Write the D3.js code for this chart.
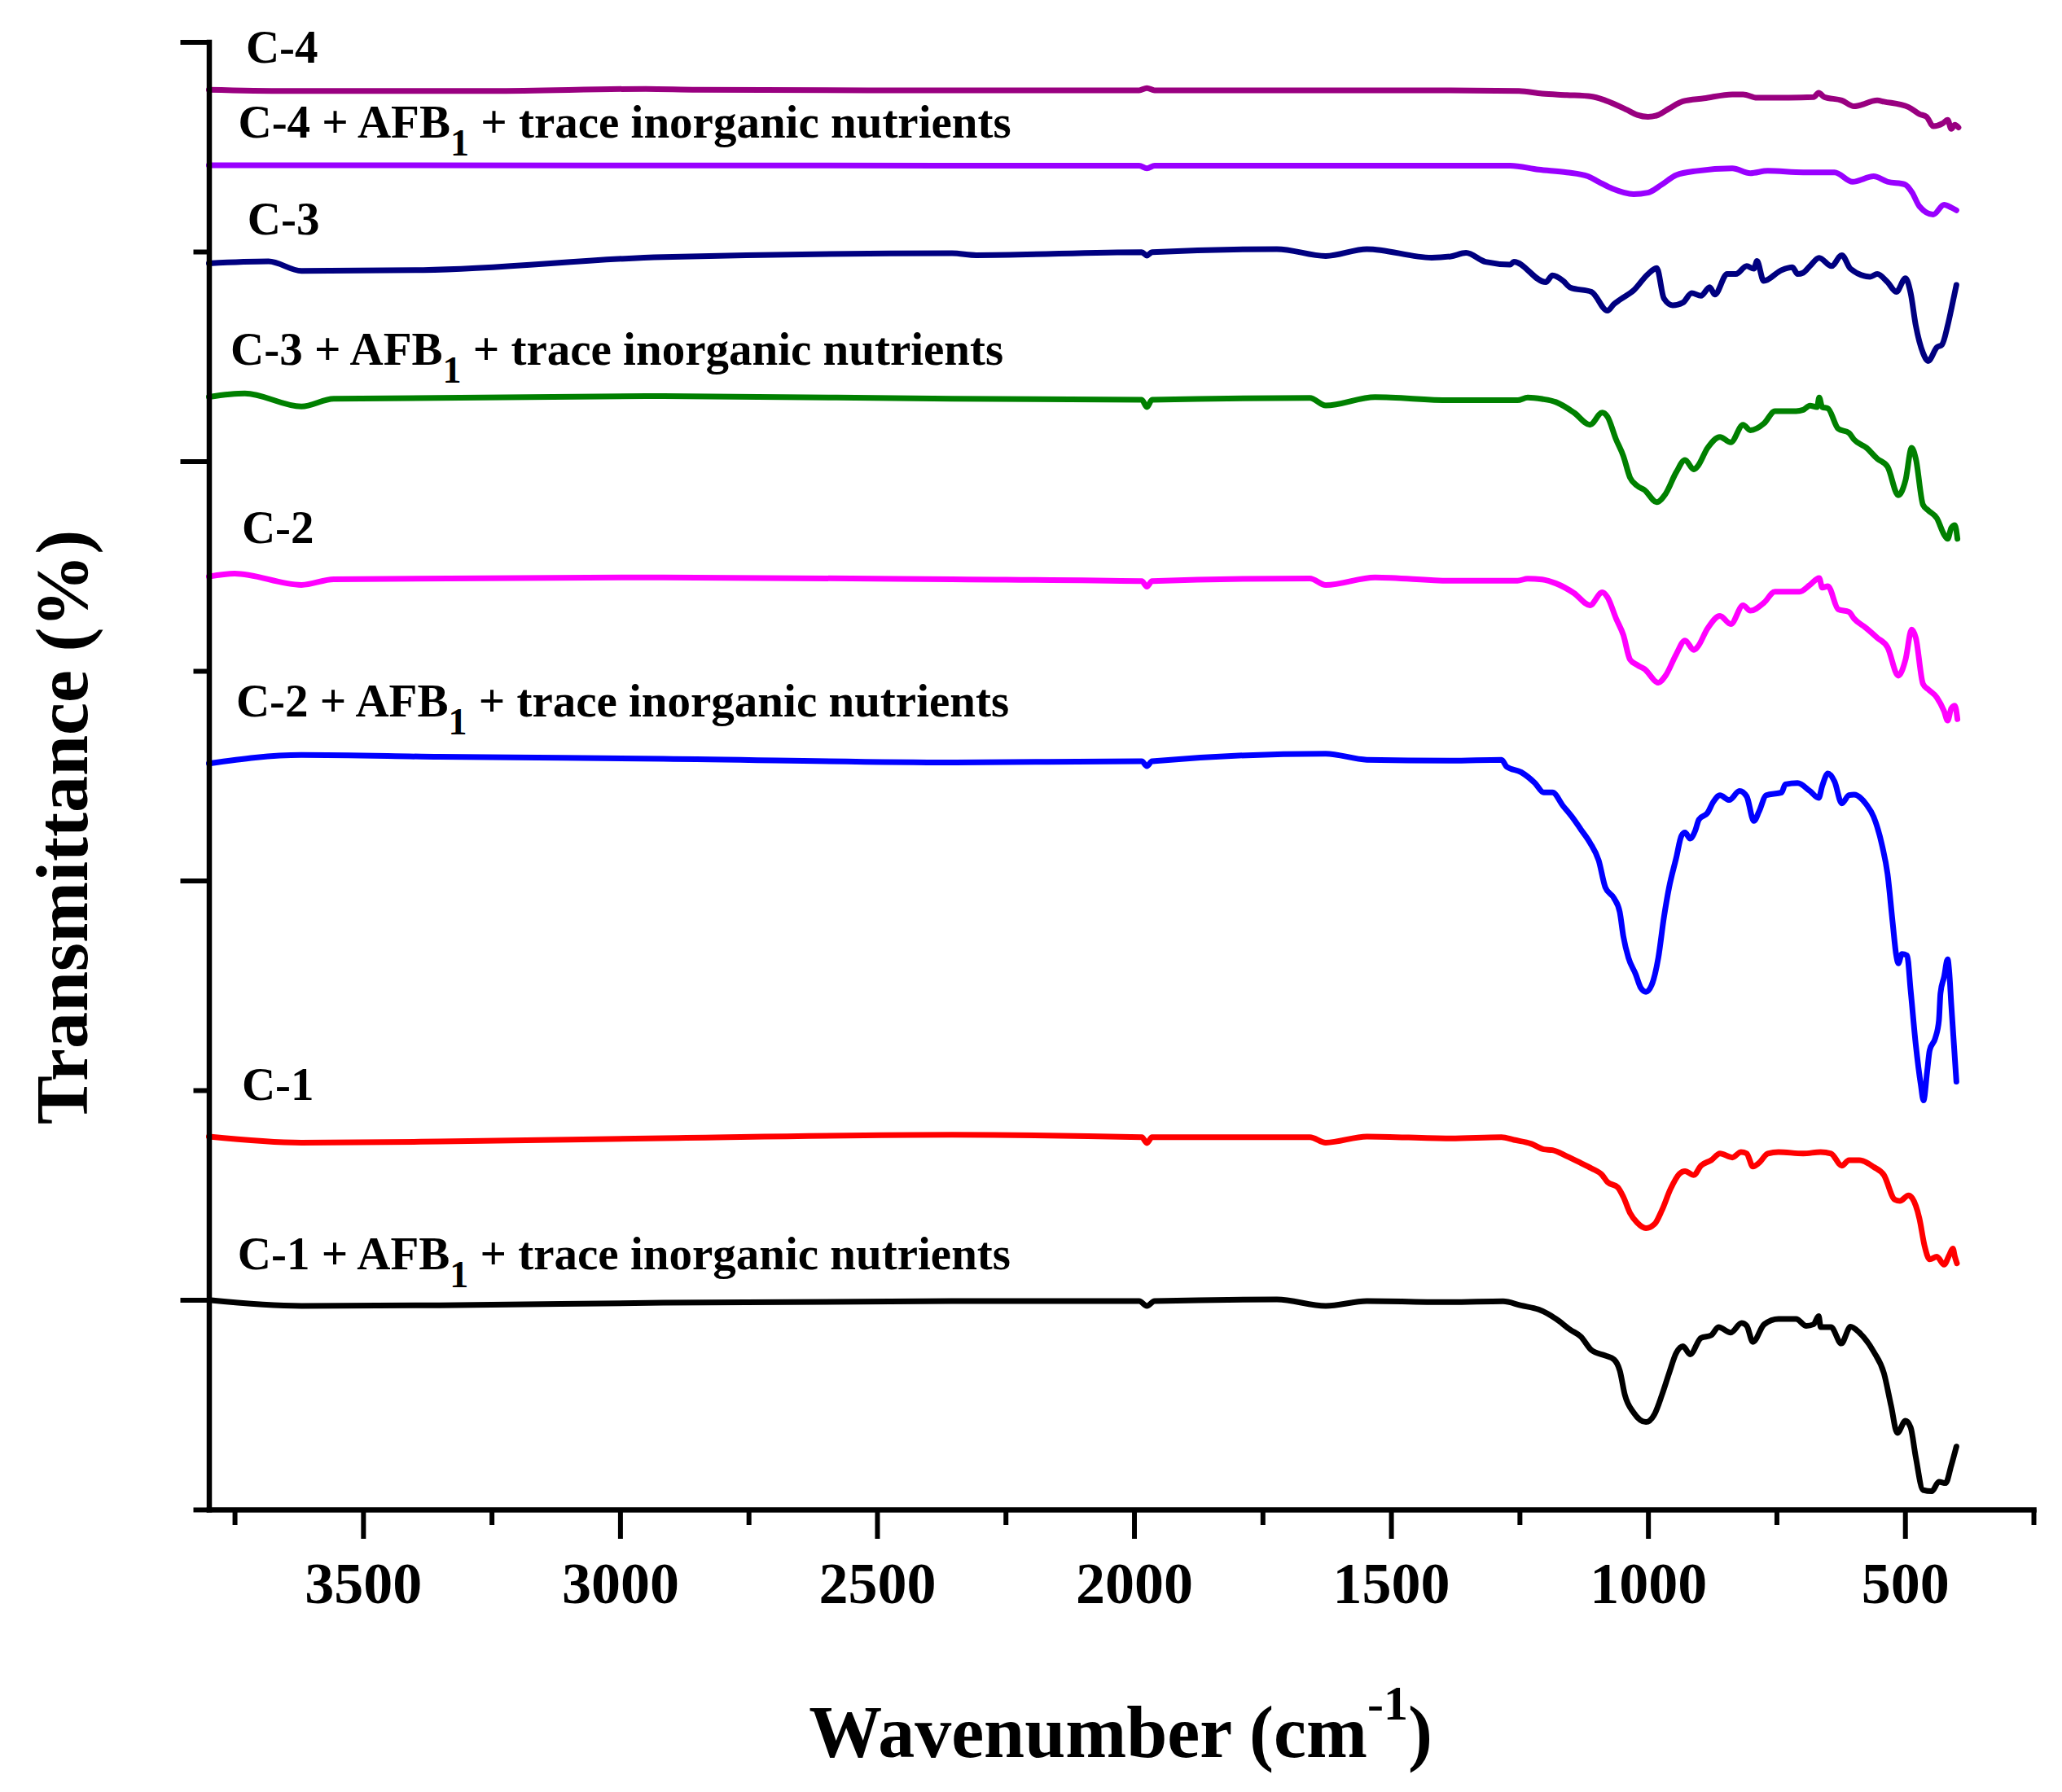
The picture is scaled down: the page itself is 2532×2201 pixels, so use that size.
<!DOCTYPE html>
<html>
<head>
<meta charset="utf-8">
<script src="https://cdn.jsdelivr.net/npm/d3@7"></script>
<style>
  body { margin: 0; background: #fff; }
  svg { display: block; }
</style>
</head>
<body>
<svg width="2532" height="2201"></svg>
<script>
// FTIR spectra, wavenumber (cm-1) vs offset transmittance (a.u.)
var c4 = [[3800,67.72],[3650,67.66],[3250,67.66],[2950,67.76],[2850,67.72],[2380,67.69],[1990,67.69],[1975,67.80],[1960,67.69],[1384,67.69],[1251,67.66],[1206,67.53],[1158,67.47],[1110,67.40],[1083,67.21],[1041,66.76],[1021,66.52],[1000,66.43],[980,66.52],[959,66.82],[932,67.17],[891,67.31],[836,67.50],[815,67.50],[788,67.34],[726,67.34],[678,67.37],[668,67.57],[657,67.37],[623,67.21],[599,66.93],[554,67.21],[541,67.15],[493,66.89],[472,66.56],[458,66.43],[445,65.98],[427,66.11],[417,66.28],[410,65.85],[403,66.05],[396,65.92]];

var c4afb = [[3800,64.12],[3650,64.12],[2380,64.10],[1990,64.10],[1975,63.97],[1960,64.10],[1384,64.10],[1268,64.10],[1213,63.91],[1158,63.78],[1117,63.59],[1096,63.33],[1069,63.00],[1028,62.74],[1000,62.81],[973,63.20],[945,63.65],[904,63.85],[836,63.97],[801,63.74],[767,63.85],[698,63.78],[637,63.78],[602,63.33],[561,63.59],[534,63.33],[500,63.20],[486,62.81],[472,62.16],[445,61.77],[424,62.23],[410,62.10],[400,61.97]];

var c3 = [[3800,59.44],[3684,59.53],[3620,59.08],[3383,59.12],[2916,59.74],[2354,59.92],[2307,59.83],[1985,59.97],[1975,59.81],[1965,59.97],[1722,60.12],[1627,59.79],[1547,60.12],[1421,59.71],[1384,59.77],[1354,59.94],[1316,59.51],[1268,59.38],[1261,59.51],[1199,58.54],[1186,58.86],[1165,58.60],[1151,58.28],[1110,58.08],[1079,57.18],[1066,57.50],[1055,57.70],[1028,58.15],[1000,58.93],[983,59.21],[969,57.76],[952,57.44],[932,57.57],[915,58.02],[897,57.89],[880,58.30],[870,57.95],[846,58.93],[829,58.93],[808,59.31],[794,59.18],[788,59.55],[775,58.60],[740,59.12],[719,59.25],[709,58.93],[698,58.99],[685,59.31],[667,59.70],[643,59.31],[623,59.83],[606,59.18],[568,58.80],[554,58.93],[534,58.54],[517,58.08],[499,58.73],[489,58.02],[479,56.47],[465,55.17],[455,54.78],[438,55.43],[428,55.56],[417,56.47],[410,57.24],[400,58.41]];

var c3afb = [[3800,53.07],[3730,53.23],[3620,52.61],[3557,52.98],[2916,53.11],[2354,52.98],[1985,52.93],[1975,52.58],[1965,52.93],[1658,53.02],[1627,52.66],[1531,53.06],[1384,52.91],[1316,52.91],[1254,52.91],[1234,53.04],[1206,52.97],[1179,52.82],[1144,52.32],[1113,51.74],[1089,52.32],[1079,52.13],[1062,51.03],[1048,50.25],[1035,49.22],[1021,48.83],[1007,48.63],[983,48.05],[966,48.44],[945,49.48],[928,50.06],[911,49.61],[904,49.74],[884,50.64],[860,51.16],[839,50.90],[815,51.74],[801,51.48],[774,51.81],[753,52.39],[712,52.39],[698,52.45],[685,52.65],[671,52.58],[667,53.04],[661,52.58],[650,52.52],[630,51.55],[609,51.35],[599,51.03],[575,50.64],[554,50.12],[534,49.74],[513,48.38],[499,49.09],[487,50.64],[479,50.12],[465,47.92],[455,47.66],[438,47.28],[424,46.50],[417,46.30],[410,46.82],[403,46.95],[398,46.30]];

var c2 = [[3800,44.50],[3750,44.64],[3620,44.10],[3557,44.37],[2916,44.46],[2354,44.37],[1985,44.28],[1975,44.02],[1965,44.28],[1658,44.41],[1627,44.10],[1531,44.46],[1384,44.30],[1254,44.30],[1234,44.40],[1206,44.36],[1179,44.17],[1144,43.71],[1113,43.13],[1089,43.75],[1079,43.52],[1062,42.49],[1048,41.71],[1035,40.54],[1021,40.28],[1007,40.09],[980,39.44],[966,39.77],[945,40.80],[928,41.45],[911,41.00],[904,41.13],[884,42.03],[860,42.62],[839,42.23],[815,43.13],[801,42.87],[774,43.26],[753,43.78],[705,43.78],[685,44.10],[667,44.43],[661,43.97],[650,44.04],[630,42.94],[609,42.81],[599,42.49],[575,42.03],[554,41.58],[534,41.13],[513,39.77],[499,40.54],[487,41.97],[479,41.58],[465,39.38],[455,39.12],[438,38.73],[424,38.08],[417,37.63],[410,38.21],[403,38.34],[398,37.70]];

var c2afb = [[3800,35.58],[3620,35.99],[3351,35.90],[2916,35.81],[2354,35.63],[1985,35.69],[1975,35.46],[1965,35.69],[1627,36.05],[1547,35.76],[1384,35.72],[1285,35.76],[1275,35.43],[1247,35.17],[1220,34.65],[1203,34.20],[1186,34.20],[1165,33.55],[1148,33.04],[1131,32.45],[1113,31.81],[1096,30.96],[1083,29.67],[1066,29.15],[1055,28.50],[1048,27.34],[1038,26.31],[1024,25.53],[1014,24.88],[1004,24.69],[993,25.01],[980,26.31],[969,28.25],[959,29.67],[945,31.09],[935,32.13],[928,32.29],[918,32.00],[908,32.39],[901,32.91],[884,33.23],[873,33.75],[860,34.07],[842,33.84],[822,34.27],[808,34.01],[794,32.84],[784,33.29],[770,34.07],[740,34.20],[733,34.59],[709,34.65],[685,34.27],[668,33.94],[661,34.52],[650,35.11],[637,34.72],[623,33.68],[609,34.07],[599,34.10],[575,33.62],[561,33.04],[544,31.61],[534,30.32],[524,27.99],[517,26.43],[513,26.05],[506,26.50],[496,26.43],[489,24.75],[479,22.16],[469,20.22],[464,19.51],[457,20.87],[452,21.90],[441,22.49],[434,23.33],[431,24.62],[424,25.40],[417,26.24],[414,25.66],[410,24.10],[403,21.51],[400,20.41]];

var c1 = [[3800,17.79],[3620,17.50],[3351,17.55],[2916,17.71],[2354,17.87],[1985,17.76],[1975,17.48],[1965,17.76],[1658,17.76],[1627,17.50],[1547,17.79],[1384,17.70],[1285,17.76],[1261,17.63],[1227,17.44],[1203,17.18],[1186,17.14],[1158,16.85],[1131,16.53],[1110,16.27],[1089,15.95],[1079,15.62],[1059,15.37],[1048,14.91],[1035,14.14],[1021,13.68],[1004,13.42],[987,13.62],[973,14.27],[956,15.30],[939,16.01],[928,16.14],[911,15.95],[897,16.40],[877,16.66],[860,16.98],[836,16.79],[819,17.05],[808,16.98],[796,16.36],[784,16.53],[767,16.98],[746,17.05],[698,16.98],[664,17.05],[644,16.98],[623,16.40],[609,16.66],[589,16.66],[561,16.34],[541,15.95],[520,14.78],[510,14.72],[493,14.98],[486,14.85],[472,13.88],[462,12.58],[452,11.93],[438,12.06],[424,11.68],[414,12.13],[407,12.45],[403,12.06],[399,11.74]];

var c1afb = [[3800,9.99],[3620,9.71],[3351,9.74],[2916,9.86],[2354,9.94],[1990,9.94],[1975,9.71],[1960,9.94],[1722,10.02],[1627,9.71],[1547,9.94],[1384,9.89],[1282,9.93],[1247,9.73],[1213,9.54],[1196,9.35],[1179,9.09],[1151,8.57],[1131,8.25],[1110,7.60],[1083,7.34],[1066,7.15],[1055,6.63],[1045,5.46],[1028,4.62],[1004,4.17],[987,4.56],[973,5.46],[959,6.50],[945,7.47],[932,7.79],[918,7.40],[897,8.18],[877,8.31],[863,8.70],[839,8.44],[818,8.89],[808,8.76],[796,7.99],[774,8.83],[746,9.09],[712,9.09],[692,8.76],[678,8.83],[668,9.22],[664,8.70],[644,8.70],[624,7.92],[606,8.72],[589,8.44],[561,7.53],[541,6.50],[527,4.94],[515,3.65],[499,4.23],[489,3.91],[479,2.49],[465,0.93],[448,0.87],[434,1.32],[421,1.26],[410,2.10],[400,3.00]];

var seriesData = [c4, c4afb, c3, c3afb, c2, c2afb, c1, c1afb];
var seriesColors = ["#990080", "#9900ff", "#000080", "#008000", "#ff00ff", "#0000ff", "#ff0000", "#000000"];

// label text and its anchor (wavenumber of left edge, baseline value)
var labelSample = ["C-4", "C-4", "C-3", "C-3", "C-2", "C-2", "C-1", "C-1"];
var labelHasAfb = [false, true, false, true, false, true, false, true];
var labelWn = [3728, 3743, 3725, 3758, 3736, 3747, 3736, 3744];
var labelVal = [69.01, 65.44, 60.80, 54.62, 46.10, 37.83, 19.53, 11.46];

var xMajorTicks = [3500, 3000, 2500, 2000, 1500, 1000, 500];
var xMinorTicks = [3750, 3250, 2750, 2250, 1750, 1250, 750, 250];
var yMajorTicks = [10, 30, 50, 70];
var yMinorTicks = [0, 20, 40, 60];

var FONT = '"Liberation Serif", "Times New Roman", serif';

var svg = d3.select("svg"),
    width = +svg.attr("width"),
    height = +svg.attr("height");

svg.append("rect").attr("width", width).attr("height", height).attr("fill", "#fff");

var x = d3.scaleLinear().domain([3800, 250]).range([256.5, 2497]);
var y = d3.scaleLinear().domain([0, 70]).range([1854, 51.5]);

var line = d3.line()
    .x(function(d) { return x(d[0]); })
    .y(function(d) { return y(d[1]); })
    .curve(d3.curveMonotoneX);

// spectra
svg.append("g")
  .selectAll("path")
  .data(seriesData)
  .enter()
  .append("path")
    .attr("d", line)
    .attr("fill", "none")
    .attr("stroke", function(d, i) { return seriesColors[i]; })
    .attr("stroke-width", 7)
    .attr("stroke-linejoin", "round")
    .attr("stroke-linecap", "round");

// curve labels
var labels = svg.append("g")
    .attr("font-family", FONT)
    .attr("font-weight", "bold")
    .attr("font-size", 57)
  .selectAll("text")
  .data(labelSample)
  .enter()
  .append("text")
    .attr("x", function(d, i) { return x(labelWn[i]); })
    .attr("y", function(d, i) { return y(labelVal[i]); });

labels.each(function(d, i) {
  var t = d3.select(this);
  if (!labelHasAfb[i]) { t.text(d); return; }
  t.append("tspan").text(d + " + AFB");
  t.append("tspan").attr("font-size", 46).attr("dy", 22).text("1");
  t.append("tspan").attr("dy", -22).text("\u00a0+ trace inorganic nutrients");
});

// x axis
var gx = svg.append("g").attr("transform", "translate(0,1854)");
gx.call(d3.axisBottom(x).tickValues(xMinorTicks).tickSize(19).tickSizeOuter(0).tickFormat(""));
gx.select(".domain").remove();
var gx2 = svg.append("g").attr("transform", "translate(0,1854)");
gx2.call(d3.axisBottom(x).tickValues(xMajorTicks).tickSize(36).tickSizeOuter(0).tickFormat(d3.format("d")));
gx2.select(".domain").attr("stroke-width", 6.5).attr("stroke-linecap", "square");
gx.selectAll(".tick line").attr("stroke-width", 6);
gx2.selectAll(".tick line").attr("stroke-width", 6);
gx2.selectAll(".tick text")
    .attr("y", 115).attr("dy", 0)
    .attr("font-family", FONT).attr("font-weight", "bold").attr("font-size", 72);

// y axis, no labels
var gy = svg.append("g").attr("transform", "translate(256.5,0)");
gy.call(d3.axisLeft(y).tickValues(yMinorTicks).tickSize(19).tickSizeOuter(0).tickFormat(""));
gy.select(".domain").remove();
var gy2 = svg.append("g").attr("transform", "translate(256.5,0)");
gy2.call(d3.axisLeft(y).tickValues(yMajorTicks).tickSize(35).tickSizeOuter(0).tickFormat(""));
gy2.select(".domain").attr("stroke-width", 6.5).attr("stroke-linecap", "square");
gy.selectAll(".tick line").attr("stroke-width", 6);
gy2.selectAll(".tick line").attr("stroke-width", 6);

// axis titles
var xt = svg.append("text")
    .attr("x", 1376).attr("y", 2158)
    .attr("text-anchor", "middle")
    .attr("font-family", FONT).attr("font-weight", "bold").attr("font-size", 90);
xt.append("tspan").text("Wavenumber (cm");
xt.append("tspan").attr("font-size", 60).attr("dy", -46).text("-1");
xt.append("tspan").attr("dy", 46).text(")");

svg.append("text")
    .attr("transform", "translate(107,1016) rotate(-90)")
    .attr("text-anchor", "middle")
    .attr("font-family", FONT).attr("font-weight", "bold").attr("font-size", 90)
    .text("Transmittance (%)");
</script>
</body>
</html>
